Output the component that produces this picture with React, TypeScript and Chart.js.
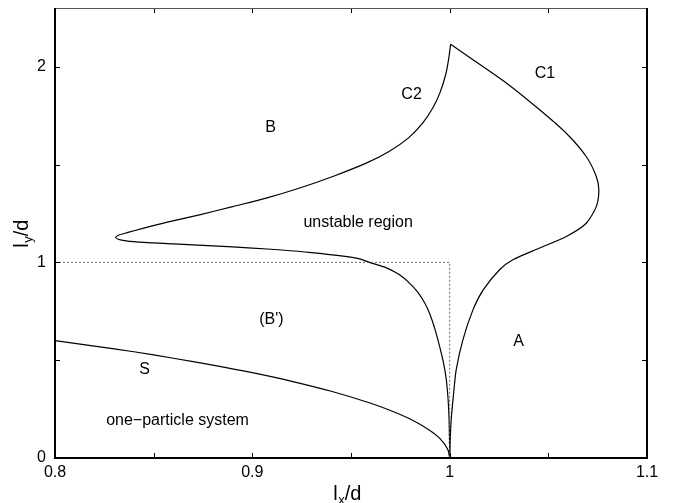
import React, { useEffect, useRef } from "react";
import { Chart, registerables } from "chart.js";

Chart.register(...registerables);

// Stability boundary, part 1: from the lower cusp up the left branch, round the tip, along C2 to the upper cusp
const c2BranchX = [
  1.0, 0.9999, 0.9997, 0.9992, 0.9983, 0.997, 0.9949, 0.9925, 0.99, 0.9875, 0.984, 0.98,
  0.9746, 0.968, 0.9594, 0.9543, 0.945, 0.93, 0.915, 0.9, 0.88, 0.86, 0.845, 0.836,
  0.832, 0.8307, 0.8325, 0.837, 0.845, 0.8564, 0.8732, 0.89, 0.907, 0.924, 0.9408, 0.9577,
  0.9695, 0.979, 0.9862, 0.9915, 0.9952, 0.998, 0.9995, 1.0005,
];
const c2BranchY = [
  0.0, 0.1, 0.2, 0.3, 0.4, 0.48, 0.57, 0.66, 0.735, 0.79, 0.845, 0.89,
  0.936, 0.972, 1.0, 1.018, 1.033, 1.05, 1.063, 1.073, 1.084, 1.094, 1.102, 1.11,
  1.118, 1.128, 1.14, 1.153, 1.175, 1.204, 1.243, 1.285, 1.328, 1.38, 1.439, 1.507,
  1.568, 1.635, 1.71, 1.79, 1.87, 1.96, 2.04, 2.115,
];

// Stability boundary, part 2: C1 from the upper cusp back down to the lower cusp
const c1BranchX = [
  1.0005, 1.0118, 1.0287, 1.0456, 1.0591, 1.0692, 1.0743, 1.0756, 1.0743, 1.0692, 1.0591,
  1.0456, 1.032, 1.0253, 1.017, 1.0118, 1.0067, 1.0033, 1.002, 1.0008, 1.0003, 1.0,
];
const c1BranchY = [
  2.115, 2.036, 1.917, 1.78, 1.66, 1.541, 1.439, 1.371, 1.285, 1.2, 1.132,
  1.073, 1.013, 0.962, 0.859, 0.757, 0.604, 0.45, 0.33, 0.2, 0.1, 0.0,
];

// One-particle system boundary S
const oneParticleX = [0.8, 0.82, 0.84, 0.86, 0.88, 0.9, 0.92, 0.94, 0.96, 0.97, 0.98, 0.99, 0.995, 0.999, 1.0];
const oneParticleY = [0.6, 0.572, 0.543, 0.51, 0.475, 0.436, 0.392, 0.341, 0.28, 0.243, 0.199, 0.141, 0.1, 0.045, 0.0];

// Dotted guide lines
const dottedX = [0.8, 1.0, 1.0];
const dottedY = [1.0, 1.0, 0.0];

// Axis ticks
const xTickValues = [0.8, 0.9, 1.0, 1.1];
const xTickLabels = ["0.8", "0.9", "1", "1.1"];
const xMinorTicks = [0.85, 0.95, 1.05];
const yTickValues = [0, 1, 2];
const yTickLabels = ["0", "1", "2"];
const yMinorTicks = [0.5, 1.5];

// Region annotations
const regionLabels = ["B", "C2", "C1", "unstable region", "(B')", "A", "S", "one\u2212particle system"];
const regionLabelX = [0.9092, 0.9807, 1.0483, 0.9536, 0.9097, 1.0349, 0.8454, 0.8621];
const regionLabelY = [1.688, 1.857, 1.964, 1.205, 0.706, 0.593, 0.45, 0.189];

const FONT = '"Liberation Sans", Arial, Helvetica, sans-serif';

const toPoints = (xs: number[], ys: number[]) => xs.map((x, i) => ({ x, y: ys[i] }));

const decorPlugin = {
  id: "decor",
  afterDatasetsDraw(chart: any) {
    const { ctx, chartArea } = chart;
    const xs = chart.scales.x;
    const ys = chart.scales.y;
    const { left, right, top, bottom } = chartArea;
    ctx.save();

    // region labels
    ctx.fillStyle = "#000";
    ctx.font = `16px ${FONT}`;
    ctx.textAlign = "center";
    ctx.textBaseline = "middle";
    regionLabels.forEach((t, i) => {
      ctx.fillText(t, xs.getPixelForValue(regionLabelX[i]), ys.getPixelForValue(regionLabelY[i]));
    });

    // inward ticks
    ctx.strokeStyle = "#000";
    ctx.lineWidth = 1;
    const tl = 5;
    [...xTickValues, ...xMinorTicks].forEach((v) => {
      const px = Math.round(xs.getPixelForValue(v)) + 0.5;
      ctx.beginPath();
      ctx.moveTo(px, bottom);
      ctx.lineTo(px, bottom - tl);
      ctx.moveTo(px, top);
      ctx.lineTo(px, top + tl);
      ctx.stroke();
    });
    [...yTickValues, ...yMinorTicks].forEach((v) => {
      const py = Math.round(ys.getPixelForValue(v)) + 0.5;
      ctx.beginPath();
      ctx.moveTo(left, py);
      ctx.lineTo(left + tl, py);
      ctx.moveTo(right, py);
      ctx.lineTo(right - tl, py);
      ctx.stroke();
    });

    // frame
    ctx.strokeStyle = "#555";
    ctx.lineWidth = 1;
    ctx.beginPath();
    ctx.moveTo(left, top + 0.5);
    ctx.lineTo(right, top + 0.5);
    ctx.stroke();
    ctx.strokeStyle = "#000";
    ctx.lineWidth = 2;
    ctx.beginPath();
    ctx.moveTo(left, top);
    ctx.lineTo(left, bottom);
    ctx.lineTo(right, bottom);
    ctx.lineTo(right, top);
    ctx.stroke();

    // axis titles with subscripts
    const drawTitle = (main: string, sub: string, rest: string) => {
      ctx.font = `20px ${FONT}`;
      const w1 = ctx.measureText(main).width;
      const w3 = ctx.measureText(rest).width;
      ctx.font = `13px ${FONT}`;
      const w2 = ctx.measureText(sub).width;
      const total = w1 + w2 + w3;
      let x = -total / 2;
      ctx.textAlign = "left";
      ctx.textBaseline = "alphabetic";
      ctx.font = `20px ${FONT}`;
      ctx.fillText(main, x, 0);
      x += w1 + 0.5;
      ctx.font = `13px ${FONT}`;
      ctx.fillText(sub, x, 4);
      x += w2;
      ctx.font = `20px ${FONT}`;
      ctx.fillText(rest, x, 0);
    };
    ctx.save();
    ctx.translate((left + right) / 2 - 4, 500);
    drawTitle("l", "x", "/d");
    ctx.restore();
    ctx.save();
    ctx.translate(28, (top + bottom) / 2 + 1);
    ctx.rotate(-Math.PI / 2);
    drawTitle("l", "y", "/d");
    ctx.restore();

    ctx.restore();
  },
};

export default function App() {
  const canvasRef = useRef<HTMLCanvasElement | null>(null);

  useEffect(() => {
    document.body.style.margin = "0";
    const canvas = canvasRef.current;
    if (!canvas) return;
    const curve = (xs: number[], ys: number[], tension: number) => ({
      data: toPoints(xs, ys),
      showLine: true,
      borderColor: "#000",
      borderWidth: 1.2,
      pointRadius: 0,
      fill: false,
      tension,
    });
    const chart = new Chart(canvas, {
      type: "scatter",
      data: {
        datasets: [
          {
            data: toPoints(dottedX, dottedY),
            showLine: true,
            borderColor: "#666",
            borderWidth: 1,
            borderDash: [2, 2],
            pointRadius: 0,
            fill: false,
          },
          curve(oneParticleX, oneParticleY, 0.3),
          curve(c2BranchX, c2BranchY, 0.25),
          curve(c1BranchX, c1BranchY, 0.25),
        ],
      },
      options: {
        responsive: false,
        animation: false,
        layout: { padding: { left: 0, right: 26, top: 8, bottom: 0 } },
        plugins: { legend: { display: false }, tooltip: { enabled: false } },
        scales: {
          x: {
            type: "linear",
            min: 0.8,
            max: 1.1,
            grid: { display: false, drawTicks: false },
            border: { display: false },
            afterBuildTicks: (scale: any) => {
              scale.ticks = xTickValues.map((v) => ({ value: v }));
            },
            afterFit: (scale: any) => {
              scale.height = 45;
              scale.paddingLeft = 0;
              scale.paddingRight = 0;
            },
            ticks: {
              padding: 5,
              color: "#000",
              font: { family: FONT, size: 16 },
              maxRotation: 0,
              autoSkip: false,
              callback: (value: any) => {
                const i = xTickValues.findIndex((v) => Math.abs(v - Number(value)) < 1e-6);
                return i >= 0 ? xTickLabels[i] : "";
              },
            },
          },
          y: {
            type: "linear",
            min: 0,
            max: 2.3,
            grid: { display: false, drawTicks: false },
            border: { display: false },
            afterBuildTicks: (scale: any) => {
              scale.ticks = yTickValues.map((v) => ({ value: v }));
            },
            afterFit: (scale: any) => {
              scale.width = 55;
              scale.paddingTop = 0;
              scale.paddingBottom = 0;
            },
            ticks: {
              padding: 9,
              color: "#000",
              font: { family: FONT, size: 16 },
              autoSkip: false,
              callback: (value: any) => {
                const i = yTickValues.findIndex((v) => Math.abs(v - Number(value)) < 1e-6);
                return i >= 0 ? yTickLabels[i] : "";
              },
            },
          },
        },
      },
      plugins: [decorPlugin],
    } as any);
    return () => chart.destroy();
  }, []);

  return (
    <div style={{ width: 673, height: 503, background: "#fff" }}>
      <canvas ref={canvasRef} width={673} height={503} style={{ display: "block" }} />
    </div>
  );
}
